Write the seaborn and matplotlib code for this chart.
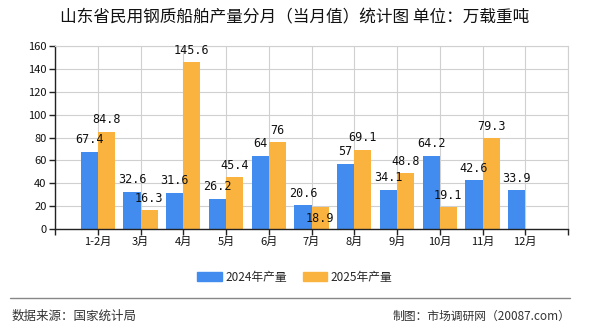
import matplotlib
matplotlib.use("Agg")
import matplotlib.pyplot as plt
import seaborn as sns
import pandas as pd
import numpy as np
from matplotlib.lines import Line2D

categories = ["1-2月", "3月", "4月", "5月", "6月", "7月", "8月", "9月", "10月", "11月", "12月"]
values_2024 = [67.4, 32.6, 31.6, 26.2, 64, 20.6, 57, 34.1, 64.2, 42.6, 33.9]
values_2025 = [84.8, 16.3, 145.6, 45.4, 76, 18.9, 69.1, 48.8, 19.1, 79.3, np.nan]
series_names = ["2024年产量", "2025年产量"]
colors = ["#438CEF", "#FBB33F"]
y_ticks = [0, 20, 40, 60, 80, 100, 120, 140, 160]

df = pd.DataFrame({
    "month": categories * 2,
    "value": values_2024 + values_2025,
    "series": [series_names[0]] * len(categories) + [series_names[1]] * len(categories),
})

sns.set_theme(style="white")
plt.rcParams["font.family"] = ["Noto Sans CJK SC", "DejaVu Sans"]

fig = plt.figure(figsize=(5.9, 3.3), dpi=100)
ax = fig.add_axes([55 / 590, 1 - 229 / 330, (568 - 55) / 590, (229 - 46) / 330])

sns.barplot(data=df, x="month", y="value", hue="series", order=categories,
            hue_order=series_names, palette=colors, width=0.8, saturation=1,
            ax=ax, legend=False, errorbar=None, linewidth=0, edgecolor="none")

# value labels; when two labels of one group would collide, the second goes lower
n = len(categories)
for si, cont in enumerate(ax.containers):
    for bar in cont:
        h = bar.get_height()
        if h is None or np.isnan(h) or h == 0:
            continue
        cx = bar.get_x() + bar.get_width() / 2
        idx = int(round(cx))
        dy = 4
        if si == 1:
            other = values_2024[idx] if idx < n else np.nan
            if not np.isnan(other) and abs(other - h) < 8:
                dy = -13
        ax.annotate(f"{h:g}", (cx, h), xytext=(0, dy), textcoords="offset points",
                    ha="center", va="bottom", fontsize=8.5, family="DejaVu Sans Mono",
                    color="#111111")

ax.set_xlim(-1, n)
ax.set_ylim(0, 160)
ax.set_yticks(y_ticks)
ax.set_yticklabels([str(t) for t in y_ticks])
ax.set_xticks(list(range(-1, n + 1)))
ax.set_xticklabels([""] + categories + [""])
ax.set_xlabel("")
ax.set_ylabel("")
ax.grid(True, color="#d0d0d0", linewidth=0.8)
ax.set_axisbelow(True)
for s in ["top", "right"]:
    ax.spines[s].set_color("#d0d0d0")
    ax.spines[s].set_linewidth(0.8)
for s in ["left", "bottom"]:
    ax.spines[s].set_color("#222222")
    ax.spines[s].set_linewidth(1)
ax.tick_params(axis="both", which="both", length=4, width=1, color="#222222",
               labelsize=8, labelcolor="#111111", pad=2, left=True, bottom=True)

fig.text(0.5, 1 - 17.5 / 330, "山东省民用钢质船舶产量分月（当月值）统计图 单位：万载重吨",
         ha="center", va="center", fontsize=12, color="#111111")

handles = [plt.Rectangle((0, 0), 1, 1, color=c) for c in colors]
fig.legend(handles, series_names, loc="center", bbox_to_anchor=(0.5, 1 - 277 / 330),
           ncol=2, frameon=False, fontsize=8.5, handlelength=2.1, handleheight=0.8,
           columnspacing=1.3, handletextpad=0.3)

fig.add_artist(Line2D([10 / 590, 570 / 590], [1 - 298 / 330] * 2, color="#888888", linewidth=1))
fig.text(12 / 590, 1 - 316 / 330, "数据来源：国家统计局", ha="left", va="center",
         fontsize=9, color="#333333")
fig.text(570 / 590, 1 - 316 / 330, "制图：市场调研网（20087.com）", ha="right", va="center",
         fontsize=8.5, color="#333333")

fig.savefig("out.png", dpi=100)
